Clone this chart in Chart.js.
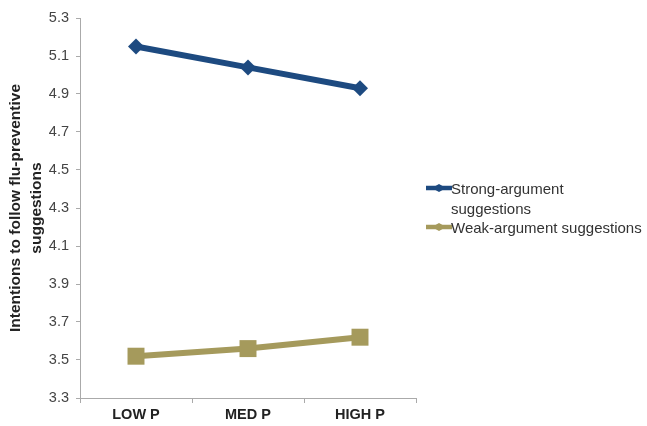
<!DOCTYPE html>
<html>
<head>
<meta charset="utf-8">
<script src="https://cdn.jsdelivr.net/npm/chart.js@4/dist/chart.umd.min.js"></script>
<style>
  html, body { margin: 0; padding: 0; background: #fff; }
  #wrap { width: 647px; height: 426px; position: relative; }
</style>
</head>
<body>
<div id="wrap"><canvas id="c" width="647" height="426"></canvas></div>
<script>
// Persuasion conditions and mean intentions per argument strength
const categories = ['LOW P', 'MED P', 'HIGH P'];
const strongArgument = [5.15, 5.04, 4.93];
const weakArgument = [3.52, 3.56, 3.62];
const seriesNames = [['Strong-argument', 'suggestions'], ['Weak-argument suggestions']];
const yTitle = ['Intentions to follow flu-preventive', 'suggestions'];

const BLUE = '#1d4a80';
const KHAKI = '#a59a5c';
const FONT = '"Liberation Sans", Arial, sans-serif';

// Legend drawn at the right of the plot, with wrapped series names
const sideLegend = {
  id: 'sideLegend',
  afterDraw(chart) {
    const ctx = chart.ctx;
    ctx.save();
    ctx.font = '15px ' + FONT;
    ctx.textBaseline = 'middle';
    let y = 190;
    const step = 19.5;
    chart.data.datasets.forEach((ds, i) => {
      const ly = y - 2;
      ctx.strokeStyle = ds.borderColor;
      ctx.lineWidth = 4.5;
      ctx.beginPath();
      ctx.moveTo(426, ly);
      ctx.lineTo(452, ly);
      ctx.stroke();
      ctx.fillStyle = ds.borderColor;
      ctx.beginPath();
      ctx.moveTo(439 - 7, ly); ctx.lineTo(439, ly - 4); ctx.lineTo(439 + 7, ly); ctx.lineTo(439, ly + 4);
      ctx.closePath(); ctx.fill();
      ctx.fillStyle = '#333';
      seriesNames[i].forEach((line, j) => {
        ctx.fillText(line, 451, y + j * step);
      });
      y += seriesNames[i].length * step;
    });
    ctx.restore();
  }
};

new Chart(document.getElementById('c'), {
  type: 'line',
  data: {
    labels: categories,
    datasets: [
      {
        label: seriesNames[0].join(' '),
        data: strongArgument,
        borderColor: BLUE,
        backgroundColor: BLUE,
        borderWidth: 6,
        pointStyle: 'rectRot',
        pointRadius: 8,
        pointBorderWidth: 0,
        tension: 0
      },
      {
        label: seriesNames[1].join(' '),
        data: weakArgument,
        borderColor: KHAKI,
        backgroundColor: KHAKI,
        borderWidth: 6,
        pointStyle: 'rect',
        pointRadius: 12,
        pointBorderWidth: 0,
        tension: 0
      }
    ]
  },
  options: {
    responsive: false,
    animation: false,
    layout: { padding: { top: 18, right: 231, bottom: 0, left: 0 } },
    plugins: {
      legend: { display: false },
      tooltip: { enabled: false }
    },
    scales: {
      x: {
        offset: true,
        grid: { offset: true, drawOnChartArea: false, color: '#aaa', tickLength: 5 },
        border: { color: '#aaa', width: 1 },
        ticks: { color: '#222', font: { family: FONT, size: 14.5, weight: 'bold' }, padding: 3 },
        afterFit(s) { s.height = 28; }
      },
      y: {
        min: 3.3,
        max: 5.3,
        grid: { drawOnChartArea: false, color: '#aaa', tickLength: 4 },
        border: { color: '#aaa', width: 1 },
        ticks: {
          stepSize: 0.2,
          color: '#444',
          padding: 7,
          font: { family: FONT, size: 14.5 },
          callback: (v) => Number(v).toFixed(1)
        },
        title: {
          display: true,
          text: yTitle,
          color: '#222',
          font: { family: FONT, size: 15.5, weight: 'bold', lineHeight: 1.35 },
          padding: { top: 5, bottom: 0 }
        },
        afterFit(s) { s.width = 80; }
      }
    }
  },
  plugins: [sideLegend]
});
</script>
</body>
</html>
